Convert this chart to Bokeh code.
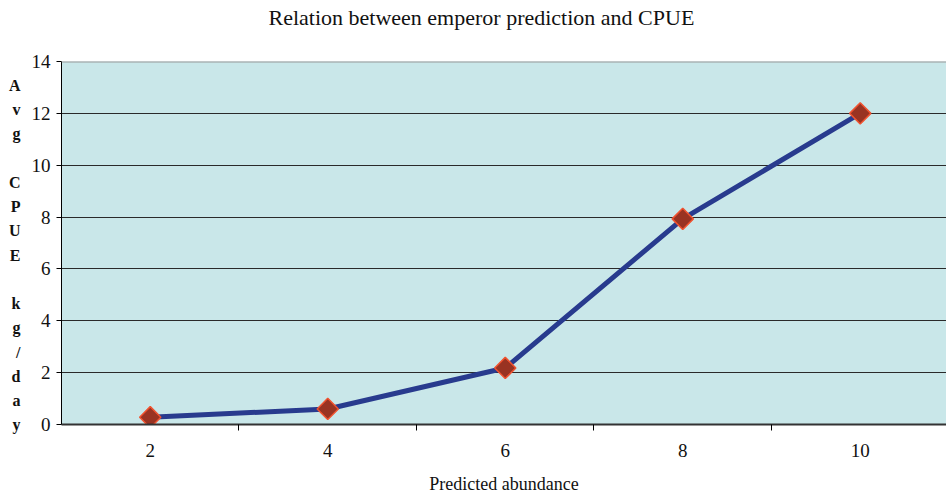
from bokeh.plotting import figure
from bokeh.models import FixedTicker, Span, Title
from bokeh.embed import file_html
from bokeh.resources import INLINE
import math

# Chart data
abundance = ["2", "4", "6", "8", "10"]
avg_cpue = [0.28, 0.6, 2.18, 7.93, 12.0]
y_ticks = [0, 2, 4, 6, 8, 10, 12, 14]
y_caption = ["A", "v", "g", "", "C", "P", "U", "E", "", "k", "g", "/", "d", "a", "y"]

SERIF = "Liberation Serif"
positions = list(range(1, len(abundance) + 1))

p = figure(width=946, height=496, output_backend="svg", toolbar_location=None,
           x_range=(0.5, 5.486), y_range=(0, 14),
           min_border_left=61, min_border_right=0, min_border_top=61,
           min_border_bottom=72)
p.title = None

p.background_fill_color = "#C9E7E9"
p.border_fill_color = "white"
p.outline_line_color = None

# Title, lifted away from the plot area by an empty spacer row
p.add_layout(Title(text=" ", text_font_size="1px", standoff=27), "above")
p.add_layout(Title(text="Relation between emperor prediction and CPUE",
                   text_font=SERIF, text_font_style="normal", text_font_size="22px",
                   text_color="#111111", align="left", offset=207, standoff=4),
             "above")

# x axis: labels under categories, tick marks between them
p.xaxis.ticker = FixedTicker(ticks=positions,
                             minor_ticks=[x + 0.5 for x in positions[:-1]])
p.xaxis.major_label_overrides = {pos: lab for pos, lab in zip(positions, abundance)}
p.xaxis.major_tick_out = 0
p.xaxis.major_tick_in = 0
p.xaxis.minor_tick_out = 6
p.xaxis.minor_tick_in = 0
p.xaxis.minor_tick_line_color = "black"
p.xaxis.axis_line_color = "#333333"
p.xaxis.axis_line_width = 2
p.xaxis.major_label_text_font = SERIF
p.xaxis.major_label_text_font_size = "19px"
p.xaxis.major_label_text_color = "#111111"
p.xaxis.major_label_standoff = 13
p.xaxis.axis_label = "Predicted abundance"
p.xaxis.axis_label_text_font = SERIF
p.xaxis.axis_label_text_font_style = "normal"
p.xaxis.axis_label_text_font_size = "18px"
p.xaxis.axis_label_text_color = "#111111"
p.xaxis.axis_label_standoff = 14

# y axis with a stacked, upright caption
p.yaxis.ticker = FixedTicker(ticks=y_ticks)
p.yaxis.minor_tick_line_color = None
p.yaxis.major_tick_out = 5
p.yaxis.major_tick_in = 0
p.yaxis.axis_line_color = "black"
p.yaxis.axis_line_width = 1
p.yaxis.major_label_text_font = SERIF
p.yaxis.major_label_text_font_size = "19px"
p.yaxis.major_label_text_color = "#111111"
p.yaxis.major_label_standoff = 6
p.yaxis.axis_label = "\n".join(["\u00a0"] + [c if c else "\u00a0" for c in y_caption])
p.yaxis.axis_label_orientation = "horizontal"
p.yaxis.axis_label_text_font = SERIF
p.yaxis.axis_label_text_font_style = "bold"
p.yaxis.axis_label_text_font_size = "16px"
p.yaxis.axis_label_text_color = "#111111"
p.yaxis.axis_label_text_line_height = 1.425
p.yaxis.axis_label_standoff = 8

p.xgrid.grid_line_color = None
p.ygrid.grid_line_color = "#2a2a2a"
p.ygrid.grid_line_width = 1

# plot-area top border
p.add_layout(Span(location=14, dimension="width", line_color="#9a9a9a", line_width=2))

p.line(positions, avg_cpue, line_color="#283B8E", line_width=5)
p.scatter(positions, avg_cpue, marker="square", angle=math.pi / 4, size=15,
          fill_color="#993322", line_color="#F0522F", line_width=1.5)

open("out.html", "w").write(file_html(p, INLINE))
